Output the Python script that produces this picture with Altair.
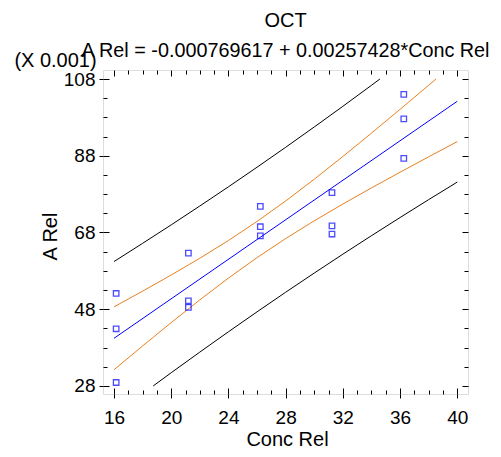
import altair as alt
import pandas as pd

# ---- data (A Rel in units of 0.001) ----
pt_x = [16.15, 16.15, 16.15, 21.2, 21.2, 21.2, 26.23, 26.23, 26.23,
        31.24, 31.24, 31.24, 36.26, 36.26, 36.26]
pt_y = [52.1, 42.9, 28.9, 62.6, 50.2, 48.5, 74.8, 69.5, 67.1,
        78.4, 69.7, 67.6, 104.0, 97.6, 87.3]

fit_x = [16, 40]
fit_y = [40.42, 102.20]

conf_up_x = [16, 18, 20, 22, 24, 26, 28, 30, 32, 34, 36, 38, 38.51]
conf_up_y = [48.62, 52.71, 56.92, 61.28, 65.91, 70.87, 76.21, 81.88, 87.81, 93.90,
             100.10, 106.38, 108.0]
conf_lo_x = [16, 18, 20, 22, 24, 26, 28, 30, 32, 34, 36, 38, 40]
conf_lo_y = [32.22, 38.43, 44.52, 50.44, 56.11, 61.45, 66.41, 71.04, 75.41, 79.62,
             83.70, 87.72, 91.69]

pred_up_x = [16, 18, 20, 22, 24, 26, 28, 30, 32, 34, 34.59]
pred_up_y = [60.42, 65.17, 69.99, 74.90, 79.90, 85.01, 90.20, 95.50, 100.88, 106.36, 108.0]
pred_lo_x = [18.74, 20, 22, 24, 26, 28, 30, 32, 34, 36, 38, 40]
pred_lo_y = [28.0, 31.45, 36.82, 42.12, 47.31, 52.42, 57.42, 62.34, 67.16, 71.90, 76.56, 81.14]

x_major = [16, 20, 24, 28, 32, 36, 40]
x_minor = list(range(16, 41))
y_major = [28, 48, 68, 88, 108]
y_minor = list(range(28, 109, 5))

title_text = "OCT"
subtitle_text = "A Rel = -0.000769617 + 0.00257428*Conc Rel"

# ---- tables ----
pts = pd.DataFrame({"x": pt_x, "y": pt_y})

rows = []
for name, xs_, ys_ in [("pred_up", pred_up_x, pred_up_y), ("pred_lo", pred_lo_x, pred_lo_y),
                       ("conf_up", conf_up_x, conf_up_y), ("conf_lo", conf_lo_x, conf_lo_y),
                       ("fit", fit_x, fit_y)]:
    for i, (a, b) in enumerate(zip(xs_, ys_)):
        rows.append({"x": a, "y": b, "series": name, "ord": i})
lines = pd.DataFrame(rows)

FONT = "Liberation Sans"
W, H = 365, 324
ORANGE = "#E8801E"
TF = 20      # title font size
LF = 19      # tick label font size

xscale = alt.Scale(domain=[15.23, 40.75], nice=False, zero=False)
yscale = alt.Scale(domain=[25.9, 110.35], nice=False, zero=False)
cscale = alt.Scale(domain=["pred_up", "pred_lo", "conf_up", "conf_lo", "fit"],
                   range=["#000000", "#000000", ORANGE, ORANGE, "#0000FF"])

xmaj_test = "datum.value % 4 === 0"
ymaj_test = "(datum.value - 28) % 20 === 0"


def inward_axis(orient, offset, values, test, **kw):
    return alt.Axis(orient=orient, offset=offset, values=values, labels=False,
                    domain=False, grid=False, tickColor="black", tickWidth=1,
                    tickSize={"condition": {"test": test, "value": 6}, "value": 4},
                    **kw)


# layer 1: prediction limits (black); carries inward ticks of bottom and left edges
pred_layer = alt.Chart(lines).transform_filter(
    alt.FieldOneOfPredicate(field="series", oneOf=["pred_up", "pred_lo"])
).mark_line(strokeWidth=1).encode(
    x=alt.X("x:Q", scale=xscale,
            axis=inward_axis("top", -H, x_minor, xmaj_test, title=None)),
    y=alt.Y("y:Q", scale=yscale,
            axis=inward_axis("right", -W, y_minor, ymaj_test,
                             title="(X 0.001)", titleAngle=0, titleX=-48, titleY=-10,
                             titleAlign="center", titleBaseline="middle",
                             titleFont=FONT, titleFontSize=TF, titleFontWeight="normal",
                             titleColor="black")),
    color=alt.Color("series:N", scale=cscale, legend=None),
    detail="series:N",
    order="ord:Q",
)

# layer 2: confidence limits + fit; carries inward ticks of top and right edges
conf_layer = alt.Chart(lines).transform_filter(
    alt.FieldOneOfPredicate(field="series", oneOf=["conf_up", "conf_lo", "fit"])
).mark_line(strokeWidth=1).encode(
    x=alt.X("x:Q", scale=xscale,
            axis=inward_axis("bottom", -H, x_minor, xmaj_test, title=None)),
    y=alt.Y("y:Q", scale=yscale,
            axis=inward_axis("left", -W, y_minor, ymaj_test, title=None)),
    color=alt.Color("series:N", scale=cscale, legend=None),
    detail="series:N",
    order="ord:Q",
)

# layer 3: observations; carries the labelled axes
pt_layer = alt.Chart(pts).mark_point(
    shape="square", filled=False, color="#0000FF", size=30, strokeWidth=1.3
).encode(
    x=alt.X("x:Q", scale=xscale,
            axis=alt.Axis(orient="bottom", values=x_major, format="d", domain=False, grid=False,
                          tickSize=4, tickColor="black", labelPadding=10,
                          labelFont=FONT, labelFontSize=LF, labelColor="black",
                          title="Conc Rel", titleFont=FONT, titleFontSize=TF,
                          titleFontWeight="normal", titleColor="black",
                          titleX=184, titleY=51, titleAlign="center",
                          titleBaseline="alphabetic")),
    y=alt.Y("y:Q", scale=yscale,
            axis=alt.Axis(orient="left", values=y_major, format="d", domain=False, grid=False,
                          tickSize=4, tickColor="black", labelPadding=4,
                          labelFont=FONT, labelFontSize=LF, labelColor="black",
                          title="A Rel", titleFont=FONT, titleFontSize=TF,
                          titleFontWeight="normal", titleColor="black",
                          titleAngle=-90, titleX=-53, titleY=166,
                          titleAlign="center", titleBaseline="middle")),
)

chart = alt.layer(pred_layer, conf_layer, pt_layer).resolve_axis(
    x="independent", y="independent"
).properties(
    width=W, height=H,
    padding={"left": 95, "top": 62, "right": 25, "bottom": 55},
    autosize=alt.AutoSizeParams(type="none"),
    title=alt.TitleParams(
        text=title_text, subtitle=subtitle_text, anchor="middle",
        font=FONT, fontSize=TF, fontWeight="normal", color="black",
        subtitleFont=FONT, subtitleFontSize=19.8, subtitleColor="black",
        subtitlePadding=10, offset=-11,
    ),
).configure_view(
    stroke="black", strokeWidth=2
).configure(background="white")

chart.save("out.html", embed_options={"renderer": "svg", "actions": False})
